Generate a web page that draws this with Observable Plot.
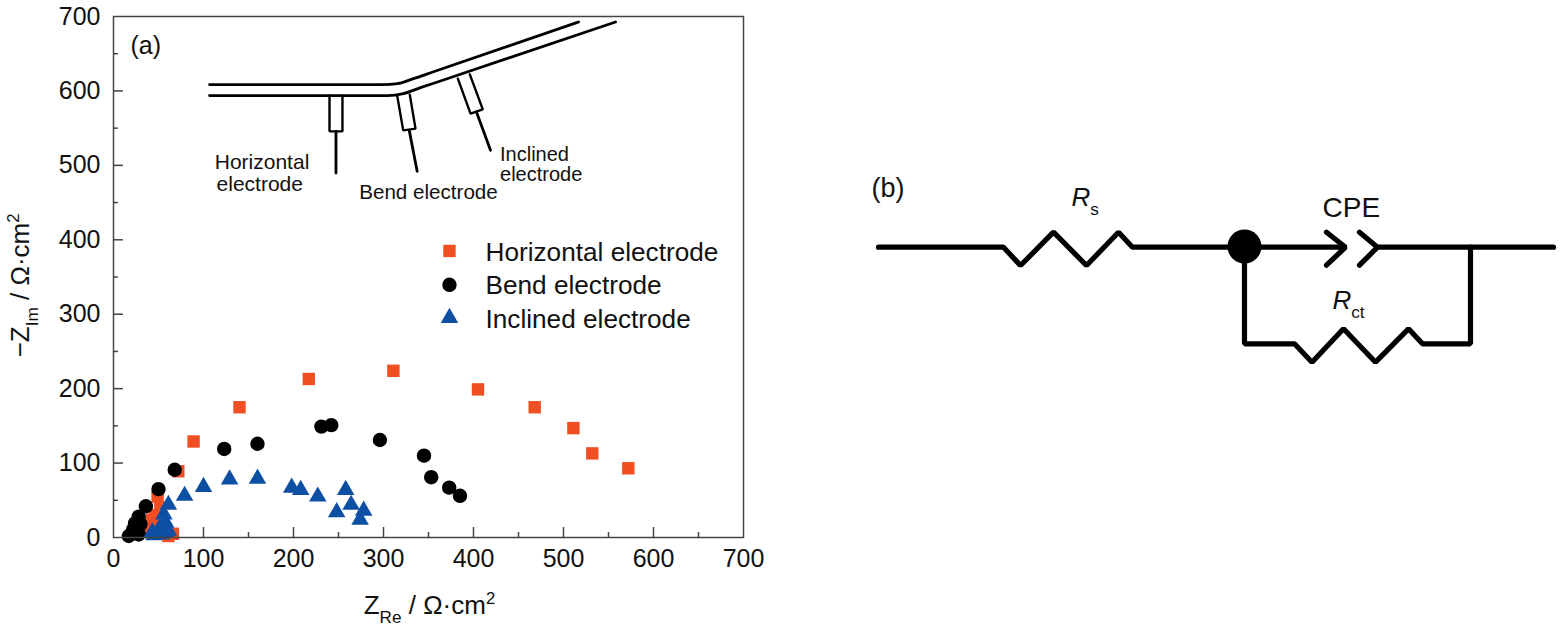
<!DOCTYPE html>
<html>
<head>
<meta charset="utf-8">
<script src="https://cdn.jsdelivr.net/npm/d3@7"></script>
<script src="https://cdn.jsdelivr.net/npm/@observablehq/plot@0.6"></script>
<style>
html,body{margin:0;padding:0;background:#fff;}
#chart{position:relative;width:1566px;height:628px;overflow:hidden;}
#chart svg{position:absolute;top:0;background:transparent;overflow:visible;}
</style>
</head>
<body>
<div id="chart"></div>
<script>
// ---- measured series: [Z_Re, -Z_Im] ----
const horizontal = [[572,93],[532,113],[511,147],[468,175],[405,199],[311,224],[217,213],[140,175],[89,129],[72,89],[49,55],[52,40],[46,30],[43,24],[41,18],[38,10],[66,5],[61,2]];
const bend = [[385,56],[373,67],[353,81],[345,110],[296,131],[242,151],[231,149],[160,126],[123,119],[68,91],[50,65],[36,42],[28,28],[24,19],[22,11],[20,5],[17,2],[28,4],[27,12],[30,18]];
const inclined = [[274,24],[278,36],[264,44],[248,34],[258,64],[227,55],[208,64],[198,67],[160,79],[129,78],[100,68],[79,56],[61,44],[56,31],[58,20],[52,13],[61,9],[43,7],[49,6],[58,6],[45,3],[53,4],[50,10],[56,10]];

const majorTicks = [0,100,200,300,400,500,600,700];
const minorTicks = [50,150,250,350,450,550,650];

const seriesNames = ["Horizontal electrode","Bend electrode","Inclined electrode"];
const seriesColors = ["#f04e23","#000000","#0d4fa3"];
const seriesSymbols = ["square","circle","triangle"];
const seriesRadii = [7,7.2,6.5];
const legendY = [385,339.5,295];
const legendTextY = [383,338.7,293];

// ---- inset schematic, in axis units ----
const tubeUpper = [[106.7,608.5],[298.9,608.5],[315.6,609.8],[333.3,616.5],[355.6,625.8],[516.7,692.6]];
const tubeLower = [[106.7,593.7],[304.4,593.7],[322.2,596.4],[341.1,604.4],[363.3,613.4],[557.8,692.6]];
const holders = [
  [[240,593.7],[240,545.7],[254.4,545.7],[254.4,593.7]],
  [[315.2,593.7],[321.9,547],[335.6,549.3],[329.2,595]],
  [[382.6,616.5],[396.7,569.5],[410.3,575.3],[395.9,622.3]]
];
const wires = [
  [[247.2,545.7],[247.2,489.6]],
  [[328.6,547],[337.4,492]],
  [[403.3,571.6],[418.9,520.2]]
];
const insetLabels = [
  ["Horizontal",112.5,504.6,21],["electrode",114.5,475,21],
  ["Bend electrode",273,464.2,20.6],
  ["Inclined",429.5,515,20],["electrode",429.5,488,20]
];

// ---- circuit diagram, in drawing units ----
const wireRs = [[878,246.7],[1003,246.7],[1020,265],[1053,231.7],[1086,265],[1118,231.7],[1132,246.7],[1344,246.7]];
const cpeLeft = [[1326,231.7],[1345,246.7],[1326,264.7]];
const cpeRight = [[1359,231.7],[1377,246.7],[1359,264.7]];
const wireOut = [[1377,246.7],[1553,246.7]];
const wireRct = [[1244,246.7],[1244,343.3],[1294,343.3],[1311.5,361.7],[1343,328.3],[1375,361.7],[1408,328.3],[1422,343.3],[1470,343.3],[1470,246.7]];
const junction = [[1244,246]];
const circuitLabels = [
  ["(b)",871,188,27],
  ["{i:R}{sub:s}",1071,196.7,26],
  ["CPE",1322,208,28],
  ["{i:R}{sub:ct}",1332,299.7,26]
];

const font = "'Liberation Sans', Arial, sans-serif";
const PW = 800, PH = 628;

function richText(svg){
  svg.querySelectorAll("text").forEach(t=>{
    const s = t.textContent;
    if(!s.includes("{")) return;
    const parts = s.split(/(\{[a-z]+:[^}]*\})/).filter(Boolean);
    const base = parseFloat(t.getAttribute("font-size")) || parseFloat(getComputedStyle(t).fontSize);
    t.textContent = "";
    let pending = 0;
    parts.forEach(p=>{
      const m = p.match(/^\{([a-z]+):([^}]*)\}$/);
      const sp = document.createElementNS("http://www.w3.org/2000/svg","tspan");
      let dy = pending; pending = 0;
      if(m){
        sp.textContent = m[2];
        if(m[1]==="i") sp.setAttribute("font-style","italic");
        if(m[1]==="sub"){ const sh=base*0.36; dy+=sh; pending=-sh; sp.setAttribute("font-size",base*0.66); }
        if(m[1]==="sup"){ const sh=-base*0.38; dy+=sh; pending=-sh; sp.setAttribute("font-size",base*0.64); }
      } else sp.textContent = p;
      if(dy) sp.setAttribute("dy",dy);
      t.appendChild(sp);
    });
  });
}

const series = (rows,i)=>Plot.dot(rows,{x:d=>d[0],y:d=>d[1],symbol:seriesSymbols[i],r:seriesRadii[i],fill:seriesColors[i],stroke:"none"});
const poly = (pts,w=2)=>Plot.line(pts,{x:d=>d[0],y:d=>d[1],stroke:"#000",strokeWidth:w,strokeLinejoin:"miter"});

const left = Plot.plot({
  width:PW,height:PH,marginLeft:113,marginRight:57,marginTop:16,marginBottom:91,
  style:{fontFamily:font,background:"transparent",color:"#111"},
  x:{domain:[0,700],label:null},
  y:{domain:[0,700],label:null},
  marks:[
    Plot.ruleX(majorTicks.slice(1,-1),{y1:0,y2:13.4,stroke:"#444",strokeWidth:1.5}),
    Plot.ruleX(minorTicks,{y1:0,y2:6.7,stroke:"#444",strokeWidth:1.5}),
    Plot.ruleY(majorTicks.slice(1,-1),{x1:0,x2:11,stroke:"#444",strokeWidth:1.5}),
    Plot.ruleY(minorTicks,{x1:0,x2:5.5,stroke:"#444",strokeWidth:1.5}),
    Plot.axisX({ticks:majorTicks,tickSize:0,tickPadding:12,fontSize:25,label:null}),
    Plot.axisY({ticks:majorTicks,tickSize:0,tickPadding:13,fontSize:25,label:null}),
    Plot.line(tubeUpper,{x:d=>d[0],y:d=>d[1],stroke:"#000",strokeWidth:2.8,curve:"monotone-x"}),
    Plot.line(tubeLower,{x:d=>d[0],y:d=>d[1],stroke:"#000",strokeWidth:2.8,curve:"monotone-x"}),
    ...holders.map(h=>poly(h,2.4)),
    ...wires.map(w=>poly(w,2.8)),
    Plot.text(insetLabels,{x:d=>d[1],y:d=>d[2],text:d=>d[0],fontSize:d=>d[3],textAnchor:"start",fill:"#111"}),
    Plot.text(["(a)"],{x:[18.9],y:[660],text:d=>d,textAnchor:"start",fontSize:25,fill:"#111"}),
    series(horizontal,0),series(bend,1),series(inclined,2),
    ...seriesNames.map((n,i)=>Plot.dot([n],{x:[373.3],y:[legendY[i]],symbol:seriesSymbols[i],r:seriesRadii[i],fill:seriesColors[i],stroke:"none"})),
    Plot.text(seriesNames,{x:()=>413.3,y:(d,i)=>legendTextY[i],text:d=>d,textAnchor:"start",fontSize:26.2,fill:"#111"}),
    Plot.text(["Z{sub:Re} / Ω·cm{sup:2}"],{x:[351],y:[-91],text:d=>d,fontSize:26,fill:"#111"}),
    Plot.text(["−Z{sub:Im} / Ω·cm{sup:2}"],{x:[-103.3],y:[338.7],text:d=>d,rotate:-90,fontSize:26,fill:"#111"}),
    Plot.frame({stroke:"#444",strokeWidth:1.5})
  ]
});
left.style.left="0px";

const cline = pts=>Plot.line(pts,{x:d=>d[0],y:d=>d[1],stroke:"#000",strokeWidth:5.2,strokeLinejoin:"miter",strokeLinecap:"round"});
const right = Plot.plot({
  width:766,height:PH,margin:0,
  style:{fontFamily:font,background:"transparent",color:"#111"},
  x:{domain:[800,1566],label:null,axis:null},
  y:{domain:[628,0],label:null,axis:null},
  marks:[
    cline(wireRs),cline(cpeLeft),cline(cpeRight),cline(wireOut),cline(wireRct),
    Plot.dot(junction,{x:d=>d[0],y:d=>d[1],r:17,fill:"#000",stroke:"none"}),
    Plot.text(circuitLabels,{x:d=>d[1],y:d=>d[2],text:d=>d[0],fontSize:d=>d[3],textAnchor:"start",fill:"#111"})
  ]
});
right.style.left="800px";

const host=document.getElementById("chart");
host.append(left,right);
richText(left);richText(right);
</script>
</body>
</html>
